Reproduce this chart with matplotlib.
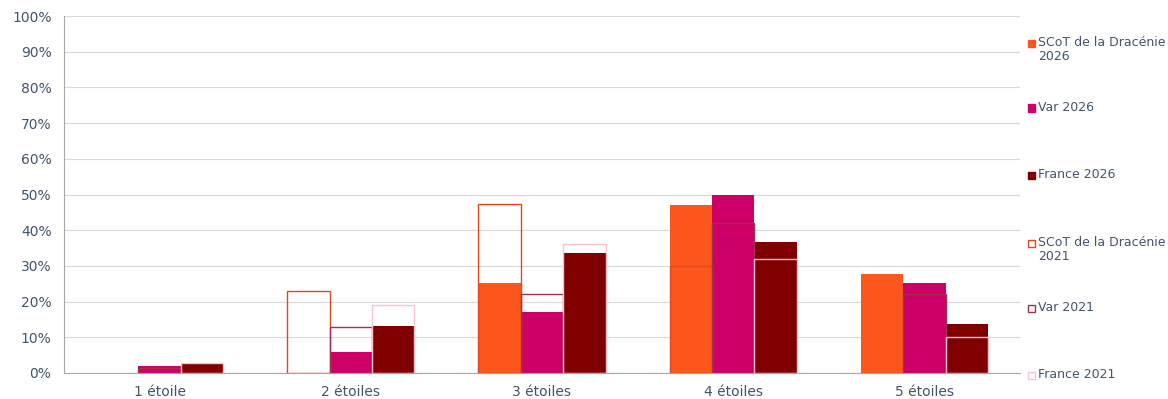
import numpy as np
import matplotlib
matplotlib.use("Agg")
import matplotlib.pyplot as plt
from matplotlib.patches import Rectangle
from matplotlib.ticker import PercentFormatter

plt.rcParams["font.family"] = ["DejaVu Sans"]

categories = ["1 étoile", "2 étoiles", "3 étoiles", "4 étoiles", "5 étoiles"]

# values in %
scot_2026 = [0.0, 0.0, 25.3, 47.0, 27.6]
var_2026 = [1.9, 5.8, 17.0, 50.0, 25.2]
france_2026 = [2.9, 13.2, 33.5, 36.6, 13.6]
scot_2021 = [0.0, 22.9, 47.2, 30.1, 0.0]
var_2021 = [1.5, 13.0, 22.0, 41.9, 22.0]
france_2021 = [2.9, 19.0, 36.2, 31.8, 10.2]

series_2026 = [("SCoT de la Dracénie\n2026", scot_2026, "#FC561D"),
               ("Var 2026", var_2026, "#CC0066"),
               ("France 2026", france_2026, "#800000")]
series_2021 = [("SCoT de la Dracénie\n2021", scot_2021, "#E2481E"),
               ("Var 2021", var_2021, "#A0304C"),
               ("France 2021", france_2021, "#F9C3CD")]

text_color = "#44546A"
fig = plt.figure(figsize=(11.68, 3.99), dpi=100)
ax = fig.add_axes([64 / 1168, 1 - 373 / 399, (1020 - 64) / 1168, (373 - 16) / 399])

x = np.arange(len(categories))
w = 0.222
offsets = [-w, 0, w]

for (label, vals, col), off in zip(series_2026, offsets):
    ax.bar(x + off, vals, width=w, color=col, edgecolor="none", zorder=2)
for (label, vals, col), off in zip(series_2021, offsets):
    vals = np.array(vals)
    keep = vals > 0  # empty categories draw nothing
    ax.bar((x + off)[keep], vals[keep], width=w, facecolor="none",
           edgecolor=col, linewidth=1.0, zorder=3)

ax.set_xlim(-0.5, len(categories) - 0.5)
ax.set_ylim(0, 100)
ax.set_yticks(np.arange(0, 101, 10))
ax.yaxis.set_major_formatter(PercentFormatter(decimals=0))
ax.set_xticks(x)
ax.set_xticklabels(categories)
ax.grid(axis="y", color="#D9D9D9", linewidth=0.8, zorder=0)
ax.set_axisbelow(True)
for s in ["top", "right"]:
    ax.spines[s].set_visible(False)
ax.spines["left"].set_color("#A6A6A6")
ax.spines["bottom"].set_color("#A6A6A6")
ax.tick_params(axis="both", length=0, colors=text_color, labelsize=10)
ax.tick_params(axis="y", pad=9)
ax.tick_params(axis="x", pad=9)

# legend on the right
legend_y = [43, 108, 175, 243, 308, 375]
entries = [(l, c, True) for l, v, c in series_2026] + [(l, c, False) for l, v, c in series_2021]
for (label, col, filled), yp in zip(entries, legend_y):
    yf = 1 - yp / 399
    sz = 7
    rect = Rectangle((1028 / 1168, yf - sz / 2 / 399), sz / 1168, sz / 399,
                     transform=fig.transFigure,
                     facecolor=col if filled else "white",
                     edgecolor=col, linewidth=1.0)
    fig.patches.append(rect)
    fig.text(1038 / 1168, yf + 7 / 399, label, ha="left", va="top",
             fontsize=9, color=text_color, linespacing=1.15)

fig.savefig("out.png", dpi=100)
